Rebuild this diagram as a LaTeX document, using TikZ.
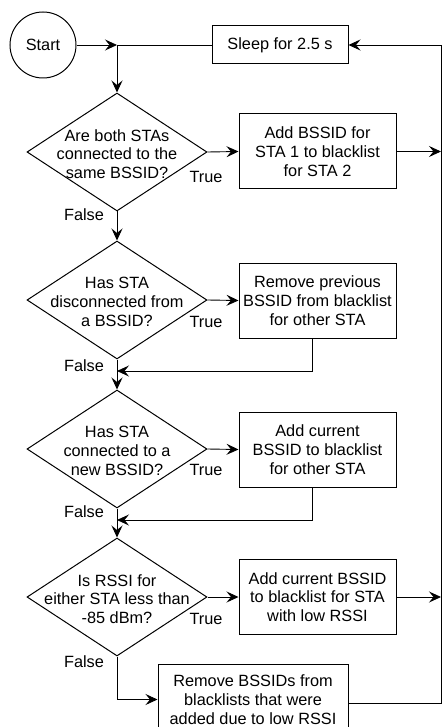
\documentclass[tikz,border=0pt]{standalone}
\usepackage{fontspec}
\setmainfont{Liberation Sans}
\usetikzlibrary{shapes.geometric,arrows.meta}
\begin{document}
\begin{tikzpicture}[x=1pt,y=-1pt,
  every node/.style={font=\fontsize{16.3}{18.8}\selectfont},
  line/.style={draw=black,line width=0.9pt},
  arr/.style={line,-{Stealth[length=12pt,width=11pt,inset=4.5pt]}},
  procbox/.style={draw=black,line width=1pt,rectangle,align=center,inner sep=0pt,minimum width=157pt,minimum height=75pt},
  decis/.style={draw=black,line width=1pt,diamond,inner sep=0pt,minimum width=180pt,minimum height=118pt},
  dtext/.style={align=center,inner sep=0pt},
  lbl/.style={inner sep=0pt}]
\useasboundingbox (0,0) rectangle (442,727);
\clip (0,0) rectangle (442,727);
\fill[white] (0,0) rectangle (442,727);

\node[draw=black,line width=1pt,circle,minimum size=66pt,inner sep=0pt] (start) at (43,45) {Start};
\coordinate (J) at (117,45);
\node[procbox,minimum width=136pt,minimum height=38pt] (sleep) at (280,45) {Sleep for 2.5 s};

\node[decis] (d1) at (117,152) {};
\node[dtext] (t1) at (117,154) {Are both STAs\\connected to the\\same BSSID?};
\node[decis] (d2) at (117,300) {};
\node[dtext] (t2) at (117,302) {Has STA\\disconnected from\\a BSSID?};
\node[decis] (d3) at (117,449) {};
\node[dtext] (t3) at (117,451) {Has STA\\connected to a\\new BSSID?};
\node[decis] (d4) at (117,597) {};
\node[dtext] (t4) at (117,599) {Is RSSI for\\either STA less than\\-85 dBm?};

\node[procbox] (b1) at (317.5,151.5) {Add BSSID for\\STA 1 to blacklist\\for STA 2};
\node[procbox] (b2) at (317.5,300.5) {Remove previous\\BSSID from blacklist\\for other STA};
\node[procbox] (b3) at (317.5,449.5) {Add current\\BSSID to blacklist\\for other STA};
\node[procbox] (b4) at (317.5,597) {Add current BSSID\\to blacklist for STA\\with low RSSI};
\node[procbox,minimum width=190pt,minimum height=71pt] (b5) at (253,699.5) {Remove BSSIDs from\\blacklists that were\\added due to low RSSI};

\node[lbl] (tr1) at (206,177) {True};
\node[lbl] (tr2) at (206,322) {True};
\node[lbl] (tr3) at (206,470) {True};
\node[lbl] (tr4) at (206,619) {True};
\node[lbl] (f1) at (84,215) {False};
\node[lbl] (f2) at (84,366) {False};
\node[lbl] (f3) at (84,512) {False};
\node[lbl] (f4) at (84,662) {False};

\coordinate (R1) at (441,151.5);
\coordinate (R4) at (441,597);
\coordinate (Rb) at (441,703);
\coordinate (Rt) at (441,45);
\coordinate (m2) at (117,371);
\coordinate (m3) at (117,520);

\draw[arr] (start.east) -- (J);
\draw[line] (sleep.west) -- (J);
\draw[arr] (J) -- (d1.north);
\draw[arr] (d1.east) -- (b1.west);
\draw[arr] (b1.east) -- (R1);
\draw[arr] (d1.south) -- (d2.north);
\draw[arr] (d2.east) -- (b2.west);
\draw[arr] ([xshift=-5pt]b2.south) |- (m2);
\draw[arr] (d2.south) -- (d3.north);
\draw[arr] (d3.east) -- (b3.west);
\draw[arr] ([xshift=-5pt]b3.south) |- (m3);
\draw[arr] (d3.south) -- (d4.north);
\draw[arr] (d4.east) -- (b4.west);
\draw[arr] (b4.east) -- (R4);
\draw[arr] (d4.south) |- (b5.west);
\draw[line] ([yshift=-3.5pt]b5.east) -- (Rb) -- (Rt);
\draw[arr] (Rt) -- (sleep.east);
\end{tikzpicture}
\end{document}
